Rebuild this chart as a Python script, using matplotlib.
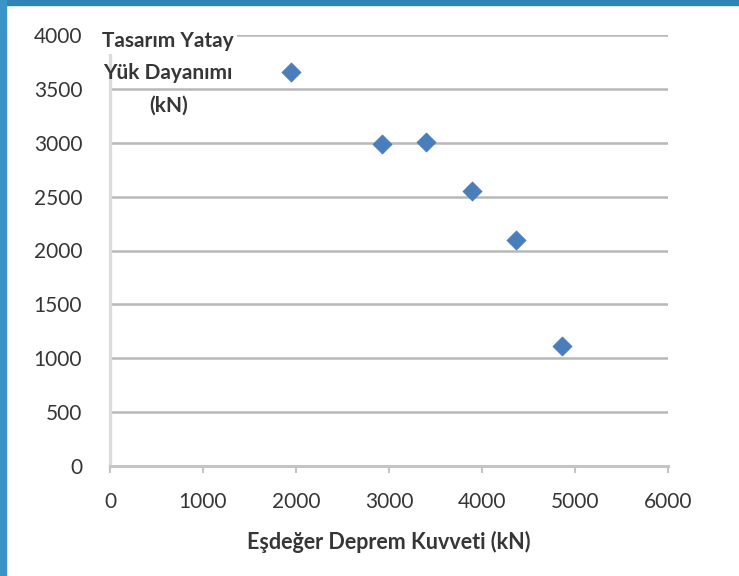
import matplotlib
matplotlib.use("Agg")
import matplotlib.pyplot as plt
from matplotlib.patches import Rectangle

# equivalent earthquake force vs. design lateral load capacity
esdeger_kuvvet = [1950, 2930, 3400, 3890, 4370, 4860]
yatay_dayanim = [3660, 2990, 3010, 2550, 2100, 1115]
x_ticks = [0, 1000, 2000, 3000, 4000, 5000, 6000]
y_ticks = [0, 500, 1000, 1500, 2000, 2500, 3000, 3500, 4000]

plt.rcParams["font.family"] = ["Lato", "DejaVu Sans"]
TXT = "#363636"

W, H = 739, 576
fig = plt.figure(figsize=(W / 100, H / 100), dpi=100)
fig.patch.set_facecolor("white")

# slide frame: blue strips along the top and left edges
fig.patches.append(Rectangle((0, 1 - 5 / H), 1, 5 / H, transform=fig.transFigure,
                             color="#2e84b4", zorder=0))
fig.patches.append(Rectangle((0, 0), 6 / W, 1, transform=fig.transFigure,
                             color="#3b94c6", zorder=0))

ax = fig.add_axes([110 / W, (H - 466) / H, 558 / W, 431 / H])
ax.scatter(esdeger_kuvvet, yatay_dayanim, marker="D", s=90, color="#4a7ebb",
           edgecolors="#4a7ebb", linewidths=0.8, zorder=3)

ax.set_xlim(0, 6000)
ax.set_ylim(0, 4000)
ax.set_xticks(x_ticks)
ax.set_yticks(y_ticks)
ax.tick_params(axis="x", length=5, width=1.5, color="#c4c4c4", pad=14,
               labelsize=15, labelcolor=TXT)
ax.tick_params(axis="y", length=0, pad=20, labelsize=15, labelcolor=TXT)

ax.grid(axis="y", color="#b8b8b8", linewidth=1.8)
ax.set_axisbelow(True)
for side in ("top", "right"):
    ax.spines[side].set_visible(False)
ax.spines["left"].set_color("#dcdcdc")
ax.spines["left"].set_linewidth(2.4)
ax.spines["bottom"].set_color("#c4c4c4")
ax.spines["bottom"].set_linewidth(2.2)

ax.set_xlabel("Eşdeğer Deprem Kuvveti (kN)", fontsize=15.5, fontweight="bold",
              color=TXT, labelpad=13)

# y-axis title sits inside the plot, top-left
title_kw = dict(transform=fig.transFigure, ha="center", va="center",
                fontsize=15, fontweight="bold", color=TXT, zorder=5)
ax.text(168 / W, 1 - 41 / H, "Tasarım Yatay",
        bbox=dict(facecolor="white", edgecolor="none", pad=2), **title_kw)
ax.text(168 / W, 1 - 73 / H, "Yük Dayanımı", **title_kw)
ax.text(169 / W, 1 - 106 / H, "(kN)", **title_kw)

fig.savefig("out.png", dpi=100)
